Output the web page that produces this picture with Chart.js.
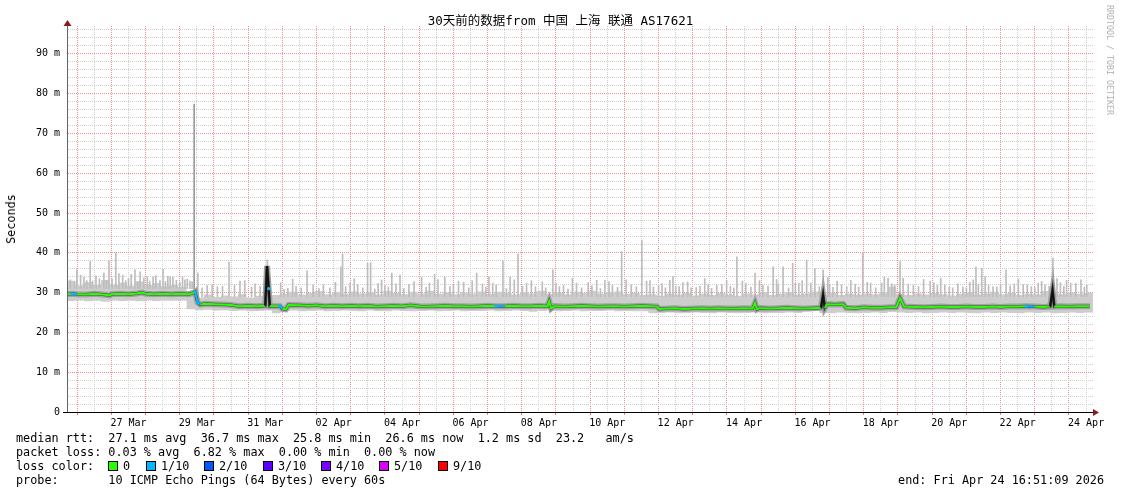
<!DOCTYPE html>
<html>
<head>
<meta charset="utf-8">
<script src="https://cdn.jsdelivr.net/npm/chart.js@4/dist/chart.umd.min.js"></script>
<style>
  body { margin: 0; background: #fff; }
  #wrap { position: relative; width: 1121px; height: 494px; background: #fff; overflow: hidden;
          font-family: "DejaVu Sans Mono", "Noto Sans CJK SC", monospace; color: #000; }
  #chart { position: absolute; left: 0; top: 0; }
  .txt { position: absolute; white-space: pre; font-size: 11.8px; line-height: 14px; }
  #title { position: absolute; left: 0; top: 13px; width: 1121px; text-align: center; font-size: 12.5px; line-height: 16px; white-space: pre; }
  #ytitle { position: absolute; left: 11px; top: 219px; transform: translate(-50%, -50%) rotate(-90deg); font-size: 11.8px; white-space: pre; }
  #rrd { position: absolute; left: 1110px; top: 60px; transform: translate(-50%, -50%) rotate(90deg); font-size: 8.3px; color: #b0b0b0; white-space: pre; }
  .box { position: absolute; width: 10px; height: 10px; box-sizing: border-box; border: 1px solid #000; }
</style>
</head>
<body>
<div id="wrap">
  <canvas id="chart" width="1121" height="494"></canvas>
  <div id="title"></div>
  <div id="ytitle">Seconds</div>
  <div id="rrd">RRDTOOL / TOBI OETIKER</div>
  <div id="legend"></div>
</div>
<script>
// x values are days since 25 Mar 00:00 (graph spans 25 Mar 16:51:09 .. 24 Apr 16:51:09)
const titleText = '30天前的数据from 中国 上海 联通 AS17621';
const startDay = 0.7022;
const endDay = 30.7022;

const xLabelDays = [2.5, 4.5, 6.5, 8.5, 10.5, 12.5, 14.5, 16.5, 18.5, 20.5, 22.5, 24.5, 26.5, 28.5, 30.5];
const xLabels = ['27 Mar', '29 Mar', '31 Mar', '02 Apr', '04 Apr', '06 Apr', '08 Apr', '10 Apr',
                 '12 Apr', '14 Apr', '16 Apr', '18 Apr', '20 Apr', '22 Apr', '24 Apr'];
const yTickLabels = ['0', '10 m', '20 m', '30 m', '40 m', '50 m', '60 m', '70 m', '80 m', '90 m'];
const yMax = 97;

const lossColors = ['#26ff00', '#00b8ff', '#0059ff', '#5e00ff', '#7e00ff', '#dd00ff', '#ff0000'];
const lossLabels = ['0', '1/10', '2/10', '3/10', '4/10', '5/10', '9/10'];

const statLines = [
  'median rtt:  27.1 ms avg  36.7 ms max  25.8 ms min  26.6 ms now  1.2 ms sd  23.2   am/s',
  'packet loss: 0.03 % avg  6.82 % max  0.00 % min  0.00 % now',
  'loss color:',
  'probe:       10 ICMP Echo Pings (64 Bytes) every 60s'
];
const endText = 'end: Fri Apr 24 16:51:09 2026';

// median rtt (ms) and loss (tenths)
const medDays = [0.70, 0.85, 1.00, 1.25, 1.50, 1.75, 1.96, 2.00, 2.25, 2.50, 2.75, 2.90, 3.00, 3.25, 3.50, 3.75, 4.00, 4.25, 4.40, 4.45,
  4.52, 4.60, 4.75, 5.00, 5.25, 5.50, 5.75, 6.00, 6.25, 6.50, 6.55, 6.60, 6.63, 6.75, 6.93, 7.00, 7.10, 7.18, 7.50, 7.75,
  8.00, 8.25, 8.50, 8.75, 9.00, 9.25, 9.50, 9.75, 10.00, 10.25, 10.50, 10.75, 11.00, 11.25, 11.50, 11.75, 12.00, 12.25, 12.50, 12.75,
  13.00, 13.25, 13.50, 13.75, 14.00, 14.25, 14.50, 14.75, 14.80, 14.86, 14.95, 15.25, 15.50, 15.75, 16.00, 16.25, 16.50, 16.75, 17.00, 17.25,
  17.50, 17.75, 17.95, 18.02, 18.25, 18.50, 18.75, 19.00, 19.25, 19.50, 19.75, 20.00, 20.25, 20.50, 20.75, 20.82, 20.88, 20.95, 21.25, 21.50,
  21.75, 22.00, 22.25, 22.50, 22.75, 22.81, 22.86, 22.92, 23.15, 23.40, 23.48, 23.75, 24.00, 24.25, 24.50, 24.75, 24.95, 25.06, 25.18, 25.50,
  25.75, 26.00, 26.25, 26.50, 26.75, 27.00, 27.25, 27.50, 27.75, 28.00, 28.25, 28.50, 28.75, 29.00, 29.25, 29.45, 29.52, 29.57, 29.75, 30.00,
  30.25, 30.61];
const medMs = [29.6, 29.7, 29.6, 29.5, 29.7, 29.5, 29.3, 29.6, 29.7, 29.6, 29.8, 30.0, 29.7, 29.6, 29.7, 29.6, 29.7, 29.6, 29.9, 30.2,
  27.5, 27.0, 27.2, 27.1, 27.0, 26.9, 26.6, 26.7, 26.6, 26.7, 36.7, 31.0, 26.6, 26.6, 26.6, 25.9, 25.8, 26.9, 26.8, 26.7,
  26.8, 26.6, 26.7, 26.6, 26.7, 26.6, 26.7, 26.5, 26.6, 26.7, 26.6, 26.8, 26.6, 26.5, 26.6, 26.7, 26.6, 26.6, 26.5, 26.6,
  26.7, 26.6, 26.6, 26.7, 26.6, 26.6, 26.7, 26.6, 27.8, 26.0, 26.6, 26.5, 26.6, 26.7, 26.6, 26.5, 26.6, 26.6, 26.5, 26.6,
  26.7, 26.6, 26.5, 25.9, 26.0, 26.1, 25.9, 26.0, 26.1, 26.0, 26.1, 26.0, 26.0, 26.1, 26.0, 27.4, 25.8, 26.1, 26.0, 26.1,
  26.2, 26.1, 26.0, 26.1, 26.2, 29.4, 26.2, 27.1, 27.0, 27.1, 26.2, 26.1, 26.3, 26.2, 26.2, 26.3, 26.3, 28.6, 26.5, 26.4,
  26.3, 26.4, 26.5, 26.4, 26.4, 26.5, 26.4, 26.4, 26.5, 26.4, 26.5, 26.5, 26.6, 26.5, 26.4, 26.5, 30.6, 26.5, 26.6, 26.5,
  26.6, 26.6];
const medLoss = [0, 1, 0, 0, 0, 0, 0, 0, 0, 0, 0, 0, 0, 0, 0, 0, 0, 0, 0, 1,
  1, 0, 0, 0, 0, 0, 0, 0, 0, 0, 0, 1, 0, 0, 1, 0, 0, 0, 0, 0,
  0, 0, 0, 0, 0, 0, 0, 0, 0, 0, 0, 0, 0, 0, 0, 0, 0, 0, 0, 0,
  0, 1, 0, 0, 0, 0, 0, 0, 0, 0, 0, 0, 0, 0, 0, 0, 0, 0, 0, 0,
  0, 0, 0, 0, 0, 0, 0, 0, 0, 0, 0, 0, 0, 0, 0, 0, 0, 0, 0, 0,
  0, 0, 0, 0, 0, 0, 0, 0, 0, 0, 0, 0, 0, 0, 0, 0, 0, 0, 0, 0,
  0, 0, 0, 0, 0, 0, 0, 0, 0, 0, 0, 0, 1, 0, 0, 0, 0, 0, 0, 0,
  0, 0];

// smoke envelope, one row every 6 hours starting at 0.70
const smokeStep = 0.25;
const smokeHigh = [32.2, 33.0, 31.8, 32.6, 31.9, 33.2, 32.0, 32.5, 31.7, 32.8, 31.9, 32.4, 31.6, 31.9, 31.5,
  29.2, 28.8, 29.5, 28.9, 29.3, 29.0, 29.6, 28.8, 29.2, 29.1,
  29.4, 29.8, 30.2, 29.5, 29.9, 30.4, 29.6, 30.1, 29.7, 30.3,
  29.8, 30.0, 29.5, 30.4, 29.9, 29.6, 30.2, 29.8, 30.5, 29.7,
  30.1, 29.6, 30.0, 29.8, 30.3, 29.7, 30.2, 29.9, 29.5, 30.1,
  29.8, 30.4, 29.7, 30.0, 29.6, 30.2, 29.9, 30.5, 29.8, 30.0,
  30.3, 29.7, 29.9, 29.4, 29.6, 29.2, 29.8, 29.5, 29.9, 29.3,
  29.7, 29.4, 29.9, 29.5, 29.2, 29.8, 29.6, 30.1, 29.4, 29.7,
  30.0, 29.5, 29.8, 30.3, 29.6, 29.9, 29.4, 29.7, 29.5, 29.8,
  29.6, 30.0, 31.5, 29.7, 29.4, 29.8, 29.5, 29.9, 29.6, 29.3,
  29.7, 30.1, 29.5, 29.8, 30.2, 29.6, 29.9, 29.4, 29.7, 29.5,
  30.4, 29.8, 29.6, 30.0, 29.7, 29.9];
const smokeLow = [28.0, 27.9, 28.1, 27.8, 28.0, 27.7, 28.1, 27.9, 28.0, 27.8, 28.1, 27.9, 28.0, 28.0, 28.1,
  25.8, 25.6, 25.7, 25.5, 25.6, 25.4, 25.5, 25.3, 25.4, 25.5,
  24.8, 25.4, 25.5, 25.3, 25.4, 25.5, 25.3, 25.4, 25.5, 25.4,
  25.3, 25.5, 25.4, 25.3, 25.5, 25.4, 25.3, 25.4, 25.5, 25.3,
  25.4, 25.5, 25.3, 25.4, 25.4, 25.5, 25.3, 25.4, 25.5, 25.4,
  25.2, 25.4, 25.5, 25.3, 25.4, 25.5, 25.3, 25.4, 25.4, 25.5,
  25.3, 25.4, 25.3, 25.3, 24.8, 24.9, 25.0, 24.8, 24.9, 25.0,
  24.9, 24.8, 25.0, 24.9, 24.8, 24.9, 25.0, 24.8, 24.9, 24.9,
  25.0, 24.9, 25.3, 25.4, 24.9, 24.8, 25.0, 24.9, 24.8, 24.9,
  25.0, 24.9, 25.1, 25.0, 24.9, 25.0, 24.8, 24.9, 25.0, 24.9,
  25.0, 24.9, 24.8, 25.0, 24.9, 25.0, 24.9, 24.8, 25.0, 24.9,
  25.0, 24.8, 24.9, 25.0, 24.9, 25.0];

// single-ping outliers (spikes) above the smoke
const preSpikeBase = 31.0;
const preSpikeDays = [0.80, 0.92, 0.99, 1.10, 1.20, 1.28, 1.38, 1.45, 1.55, 1.65, 1.78, 1.86, 1.93, 2.02, 2.13, 2.22, 2.33, 2.42,
  2.50, 2.58, 2.69, 2.77, 2.84, 2.95, 3.05, 3.12, 3.22, 3.30, 3.42, 3.51, 3.58, 3.65, 3.72, 3.80, 3.90, 4.00, 4.08, 4.15,
  4.22, 4.30, 4.36];
const preSpikeTops = [33.2, 32.6, 35.7, 34.4, 33.9, 33.0, 37.8, 32.9, 34.2, 33.5, 34.9, 33.1, 38.0, 33.4, 40.0, 34.8, 34.4, 33.0,
  33.6, 34.6, 35.7, 32.8, 35.2, 33.7, 34.0, 32.9, 33.9, 34.3, 33.0, 35.9, 32.8, 34.1, 34.0, 33.9, 33.1, 32.6, 34.0, 33.2,
  33.4, 32.9, 32.7];
const postSpikeBase = 29.0;
const postSpikeDays = [4.42, 4.53, 4.65, 4.80, 4.95, 5.10, 5.25, 5.44, 5.60, 5.76, 5.90, 6.10, 6.20, 6.35, 6.56, 6.95, 7.05, 7.16,
  7.30, 7.40, 7.55, 7.72, 7.90, 8.07, 8.20, 8.39, 8.55, 8.71, 8.76, 8.85, 8.98, 9.10, 9.20, 9.35, 9.49, 9.58, 9.70, 9.80,
  9.90, 10.00, 10.10, 10.20, 10.32, 10.44, 10.55, 10.70, 10.85, 11.07, 11.20, 11.30, 11.45, 11.55, 11.75, 11.90, 12.00, 12.15,
  12.30, 12.45, 12.55, 12.68, 12.85, 12.95, 13.04, 13.15, 13.25, 13.45, 13.55, 13.66, 13.78, 13.89, 14.02, 14.14, 14.28, 14.40,
  14.60, 14.70, 14.91, 15.00, 15.10, 15.22, 15.35, 15.48, 15.60, 15.75, 15.94, 16.05, 16.19, 16.30, 16.43, 16.55, 16.65, 16.80,
  16.92, 17.05, 17.20, 17.35, 17.51, 17.65, 17.75, 17.85, 18.00, 18.10, 18.20, 18.33, 18.42, 18.50, 18.60, 18.71, 18.85, 18.95,
  19.10, 19.21, 19.35, 19.45, 19.55, 19.70, 19.85, 19.99, 20.10, 20.20, 20.29, 20.45, 20.55, 20.70, 20.82, 20.95, 21.05, 21.20,
  21.35, 21.45, 21.50, 21.64, 21.80, 21.92, 22.00, 22.10, 22.20, 22.33, 22.45, 22.57, 22.70, 22.81, 22.95, 23.00, 23.10, 23.22,
  23.35, 23.50, 23.62, 23.75, 23.85, 23.97, 24.10, 24.20, 24.35, 24.52, 24.60, 24.71, 24.82, 24.90, 25.06, 25.15, 25.30, 25.45,
  25.60, 25.75, 25.94, 26.05, 26.15, 26.25, 26.37, 26.50, 26.60, 26.75, 26.90, 27.00, 27.10, 27.20, 27.28, 27.35, 27.45, 27.55,
  27.65, 27.78, 27.89, 28.00, 28.16, 28.28, 28.40, 28.52, 28.66, 28.78, 28.90, 29.00, 29.10, 29.20, 29.30, 29.42, 29.53, 29.65,
  29.75, 29.85, 29.93, 30.05, 30.20, 30.35, 30.45, 30.52];
const postSpikeTops = [77.4, 34.9, 31.2, 31.8, 32.0, 31.5, 31.6, 37.7, 31.8, 32.9, 33.0, 31.4, 32.2, 31.6, 38.2, 32.5, 30.8, 31.1,
  33.4, 31.6, 31.2, 35.5, 31.9, 31.0, 32.0, 31.2, 32.6, 36.5, 39.7, 31.5, 32.4, 33.5, 32.0, 31.2, 37.4, 37.5, 30.9, 32.3,
  33.2, 31.8, 31.4, 34.9, 32.2, 34.4, 31.0, 32.1, 32.8, 33.9, 31.3, 32.4, 34.6, 33.3, 33.9, 31.5, 31.8, 32.9,
  32.6, 31.2, 33.0, 34.9, 32.2, 31.4, 33.9, 32.4, 31.9, 38.0, 31.0, 33.9, 33.2, 39.7, 31.6, 32.4, 33.0, 31.5,
  32.7, 31.2, 35.7, 32.3, 31.5, 31.8, 30.9, 33.6, 32.4, 31.2, 32.5, 31.7, 33.1, 31.0, 33.1, 32.8, 31.8, 31.3,
  40.3, 33.2, 32.0, 31.5, 43.2, 32.9, 33.0, 31.4, 31.8, 32.3, 31.2, 33.1, 34.1, 31.6, 31.5, 32.5, 32.7, 31.2,
  31.3, 31.6, 33.5, 32.0, 31.1, 31.8, 32.0, 33.1, 31.6, 31.2, 39.0, 32.9, 32.3, 31.4, 34.9, 33.0, 31.9, 31.6,
  36.5, 33.3, 32.2, 36.5, 31.2, 37.4, 32.4, 32.4, 33.0, 38.2, 32.4, 36.1, 31.5, 35.7, 33.8, 32.1, 31.3, 32.9,
  32.0, 31.5, 33.1, 32.1, 31.4, 40.0, 32.6, 32.4, 31.2, 32.4, 33.9, 33.6, 32.2, 32.0, 37.8, 33.6, 32.1, 31.8,
  31.5, 33.3, 32.9, 32.4, 31.8, 33.6, 31.9, 31.4, 31.2, 32.2, 31.4, 31.2, 32.6, 33.2, 36.5, 32.1, 36.1, 34.0,
  31.9, 31.5, 31.4, 32.2, 35.7, 31.7, 32.2, 33.4, 32.0, 32.0, 31.5, 31.3, 32.4, 32.8, 31.9, 31.6, 38.7, 33.5,
  32.5, 31.6, 33.1, 32.4, 32.3, 33.2, 31.4, 32.0];

// ---- build datasets from the arrays ----
const smokeLowPts = smokeLow.map((v, i) => ({x: 0.70 + i * smokeStep, y: v}));
const smokeHighPts = smokeHigh.map((v, i) => ({x: 0.70 + i * smokeStep, y: v}));
const medPts = medMs.map((v, i) => ({x: medDays[i], y: v}));
const spikePts = preSpikeDays.map((d, i) => ({x: d, y: [preSpikeBase, preSpikeTops[i]]}))
  .concat(postSpikeDays.map((d, i) => ({x: d, y: [postSpikeBase, postSpikeTops[i]]})));

document.getElementById('title').textContent = titleText;

const legend = document.getElementById('legend');
statLines.forEach((s, i) => {
  const d = document.createElement('div');
  d.className = 'txt';
  d.style.left = '16px';
  d.style.top = (431 + i * 14) + 'px';
  d.textContent = s;
  legend.appendChild(d);
});
const boxX = [108, 146, 204, 263, 321, 379, 438];
lossColors.forEach((c, i) => {
  const b = document.createElement('div');
  b.className = 'box';
  b.style.left = boxX[i] + 'px';
  b.style.top = '461px';
  b.style.background = c;
  legend.appendChild(b);
  const t = document.createElement('div');
  t.className = 'txt';
  t.style.left = (boxX[i] + 15) + 'px';
  t.style.top = '459px';
  t.textContent = lossLabels[i];
  legend.appendChild(t);
});
const endDiv = document.createElement('div');
endDiv.className = 'txt';
endDiv.style.right = '17px';
endDiv.style.top = '473px';
endDiv.textContent = endText;
legend.appendChild(endDiv);

Chart.defaults.font.family = '"DejaVu Sans Mono", monospace';
Chart.defaults.color = '#000';

const axisArrows = {
  id: 'axisArrows',
  afterDraw(chart) {
    const {ctx, chartArea: a} = chart;
    ctx.save();
    ctx.strokeStyle = '#000';
    ctx.lineWidth = 1;
    ctx.beginPath();
    ctx.moveTo(63, a.bottom + 0.5);
    ctx.lineTo(a.right, a.bottom + 0.5);
    ctx.stroke();
    ctx.fillStyle = '#8b1a1a';
    ctx.beginPath();
    ctx.moveTo(a.right, a.bottom - 3);
    ctx.lineTo(a.right + 6, a.bottom + 0.5);
    ctx.lineTo(a.right, a.bottom + 4);
    ctx.fill();
    ctx.beginPath();
    ctx.moveTo(a.left - 3.5, a.top);
    ctx.lineTo(a.left + 0.5, a.top - 6);
    ctx.lineTo(a.left + 4.5, a.top);
    ctx.fill();
    ctx.restore();
  }
};

new Chart(document.getElementById('chart').getContext('2d'), {
  type: 'line',
  data: {
    datasets: [
      { // 0 smoke bottom
        data: smokeLowPts, borderWidth: 0, pointRadius: 0, stepped: 'after', fill: false, order: 5
      },
      { // 1 smoke top
        data: smokeHighPts, borderWidth: 0, pointRadius: 0, stepped: 'after',
        fill: '-1', backgroundColor: '#cdcdcd', order: 4
      },
      { // 2 outliers
        type: 'bar', data: spikePts, barThickness: 1, borderWidth: 0, grouped: false,
        backgroundColor: ctx => (ctx.raw && ctx.raw.y[1] > 60 ? '#9a9a9a' : '#bdbdbd'), order: 3
      },
      { // 3 medium smoke around median
        data: medPts, borderColor: '#a2a2a2', borderWidth: 6, pointRadius: 0, fill: false, order: 2
      },
      { // 4 dense smoke around median
        data: medPts, borderColor: '#505050', borderWidth: 3, pointRadius: 0, fill: false, order: 1
      },
      { // 5 median line coloured by loss
        data: medPts, borderWidth: 2, fill: false, order: 0,
        borderColor: lossColors[0],
        segment: {
          borderColor: c => (Math.abs(c.p1.parsed.y - c.p0.parsed.y) > 3 ? '#111' : lossColors[medLoss[c.p0DataIndex]])
        },
        pointRadius: c => (medLoss[c.dataIndex] > 0 ? 1.6 : 0),
        pointBorderWidth: 0,
        pointBackgroundColor: c => lossColors[medLoss[c.dataIndex]]
      }
    ]
  },
  options: {
    responsive: false,
    animation: false,
    layout: { padding: { top: 26, right: 28, left: 0, bottom: 0 } },
    plugins: { legend: { display: false }, tooltip: { enabled: false }, title: { display: false } },
    scales: {
      x: {
        type: 'linear', min: startDay, max: endDay, offset: false,
        afterBuildTicks: axis => {
          const t = [];
          for (let v = 1; v <= 30.5; v += 0.5) t.push({ value: v });
          axis.ticks = t;
        },
        afterFit: s => { s.height = 82; },
        ticks: {
          autoSkip: false, maxRotation: 0, minRotation: 0, padding: 2,
          font: { size: 10 }, color: '#000',
          callback: v => { const k = xLabelDays.indexOf(v); return k >= 0 ? xLabels[k] : ''; }
        },
        grid: {
          offset: false,
          color: c => (c.tick && Number.isInteger(c.tick.value) ? '#f09090' : '#cfcfcf'),
          lineWidth: 1, drawTicks: true, tickLength: 3,
          tickColor: c => (c.tick && Number.isInteger(c.tick.value) ? '#e08080' : 'rgba(0,0,0,0)')
        },
        border: { display: true, color: '#000', width: 1, dash: [1, 1], z: 1 }
      },
      y: {
        min: 0, max: yMax,
        afterBuildTicks: axis => {
          const t = [];
          for (let v = 0; v <= 96; v += 2) t.push({ value: v });
          axis.ticks = t;
        },
        afterFit: s => { s.width = 67; },
        ticks: {
          autoSkip: false, padding: 7, font: { size: 10 }, color: '#000',
          callback: v => (v % 10 === 0 ? yTickLabels[v / 10] : '')
        },
        grid: {
          color: c => (c.tick && c.tick.value % 10 === 0 ? '#f09090' : '#cfcfcf'),
          lineWidth: 1, drawTicks: false
        },
        border: { display: true, color: '#666', width: 1, dash: [1, 1], z: 1 }
      }
    }
  },
  plugins: [axisArrows]
});
</script>
</body>
</html>
